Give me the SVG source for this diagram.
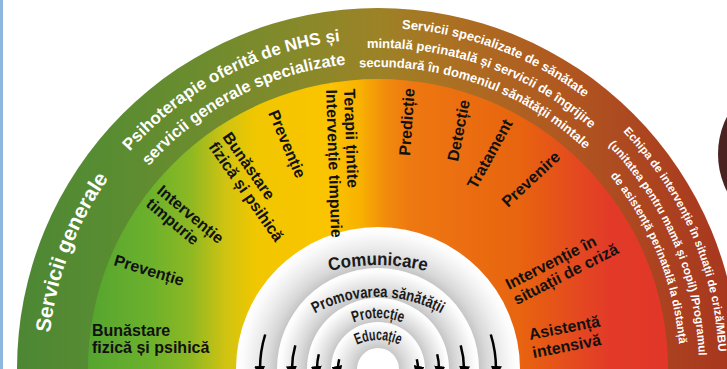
<svg xmlns="http://www.w3.org/2000/svg" xmlns:xlink="http://www.w3.org/1999/xlink" width="727" height="369" viewBox="0 0 727 369">
<style>
.out{font-family:"Liberation Sans",Arial,sans-serif;font-weight:bold;fill:#ffffff}
.in{font-family:"Liberation Sans",Arial,sans-serif;font-weight:bold;font-size:16px;fill:#111111}
.ring{font-family:"Liberation Sans Narrow","Liberation Sans",Arial,sans-serif;font-weight:bold;fill:#1a1a1a}
.arr{fill:none;stroke:#000;stroke-width:2.5;marker-end:url(#ah)}
</style>
<defs>
<linearGradient id="gOut" gradientUnits="userSpaceOnUse" x1="0" y1="0" x2="727" y2="0">
<stop offset="0" stop-color="#4b8634"/>
<stop offset="0.138" stop-color="#578c32"/>
<stop offset="0.275" stop-color="#6c8c2e"/>
<stop offset="0.413" stop-color="#87892a"/>
<stop offset="0.523" stop-color="#9d8226"/>
<stop offset="0.633" stop-color="#ad6e22"/>
<stop offset="0.77" stop-color="#b05820"/>
<stop offset="0.894" stop-color="#ac4420"/>
<stop offset="1" stop-color="#a8371e"/>
</linearGradient>
<linearGradient id="gIn" gradientUnits="userSpaceOnUse" x1="0" y1="0" x2="727" y2="0">
<stop offset="0" stop-color="#4f9e30"/>
<stop offset="0.124" stop-color="#56a530"/>
<stop offset="0.206" stop-color="#6cb12c"/>
<stop offset="0.261" stop-color="#8cb823"/>
<stop offset="0.309" stop-color="#cfc312"/>
<stop offset="0.351" stop-color="#f0c700"/>
<stop offset="0.454" stop-color="#fbc400"/>
<stop offset="0.495" stop-color="#f8b200"/>
<stop offset="0.53" stop-color="#f28c0c"/>
<stop offset="0.564" stop-color="#ee7811"/>
<stop offset="0.715" stop-color="#e8640f"/>
<stop offset="0.791" stop-color="#e44a1f"/>
<stop offset="0.839" stop-color="#e23a28"/>
<stop offset="1" stop-color="#e0332a"/>
</linearGradient>
<radialGradient id="r1" gradientUnits="userSpaceOnUse" cx="378" cy="369" r="142">
<stop offset="0.711" stop-color="#c6c6c6"/><stop offset="0.77" stop-color="#d9d9d9"/><stop offset="0.86" stop-color="#ececec"/><stop offset="0.95" stop-color="#fbfbfb"/><stop offset="1" stop-color="#ffffff"/>
</radialGradient>
<radialGradient id="r2" gradientUnits="userSpaceOnUse" cx="378" cy="369" r="101">
<stop offset="0.703" stop-color="#c6c6c6"/><stop offset="0.78" stop-color="#d9d9d9"/><stop offset="0.88" stop-color="#ededed"/><stop offset="0.96" stop-color="#fcfcfc"/><stop offset="1" stop-color="#ffffff"/>
</radialGradient>
<radialGradient id="r3" gradientUnits="userSpaceOnUse" cx="378" cy="369" r="71">
<stop offset="0.662" stop-color="#c8c8c8"/><stop offset="0.75" stop-color="#dadada"/><stop offset="0.87" stop-color="#eeeeee"/><stop offset="0.96" stop-color="#fcfcfc"/><stop offset="1" stop-color="#ffffff"/>
</radialGradient>
<radialGradient id="r4" gradientUnits="userSpaceOnUse" cx="378" cy="369" r="47">
<stop offset="0.447" stop-color="#c8c8c8"/><stop offset="0.6" stop-color="#dadada"/><stop offset="0.8" stop-color="#eeeeee"/><stop offset="0.95" stop-color="#fcfcfc"/><stop offset="1" stop-color="#ffffff"/>
</radialGradient>
<path id="p330" d="M67.9,481.9 A330,330 0 1 1 688.1,481.9"/>
<path id="p306" d="M90.5,473.7 A306,306 0 1 1 665.5,473.7"/>
<path id="p341" d="M57.6,485.6 A341,341 0 1 1 698.4,485.6"/>
<path id="p321" d="M76.4,478.8 A321,321 0 1 1 679.6,478.8"/>
<path id="p302" d="M94.2,472.3 A302,302 0 1 1 661.8,472.3"/>
<path id="pCom" d="M178,465 A200,200 0 0 1 578,465"/>
<path id="pPro" d="M248,427 A130,130 0 0 1 508,427"/>
<path id="pPrt" d="M312,384 A66,66 0 0 1 444,384"/>
<path id="pEdu" d="M328,390 A50,50 0 0 1 428,390"/>
<marker id="ah" viewBox="0 0 12 11" refX="10" refY="5.5" markerWidth="12" markerHeight="11" markerUnits="userSpaceOnUse" orient="auto">
<path d="M0,0 L12,5.5 L0,11 Z" fill="#000"/>
</marker>
</defs>
<rect x="0" y="0" width="727" height="369" fill="#ffffff"/>
<rect x="0" y="0" width="3" height="369" fill="#8cb5e0"/>
<circle id="side-disc" cx="800" cy="154" r="82" fill="#4a2220"/>

<g id="band-outer"><circle cx="378" cy="369" r="361" fill="url(#gOut)"/></g>
<g id="band-inner"><circle cx="378" cy="369" r="290" fill="url(#gIn)"/></g>
<g id="core">
<circle cx="378" cy="369" r="142" fill="url(#r1)"/>
<circle cx="378" cy="369" r="101" fill="url(#r2)"/>
<circle cx="378" cy="369" r="71" fill="url(#r3)"/>
<circle cx="378" cy="369" r="47" fill="url(#r4)"/>
<circle cx="378" cy="369" r="21" fill="#ffffff"/>
</g>

<g id="outer-labels">
<g id="servicii-generale"><text class="out" font-size="21"><textPath xlink:href="#p330" startOffset="235" text-anchor="middle">Servicii generale</textPath></text></g>
<g id="psihoterapie">
<text class="out" font-size="17"><textPath xlink:href="#p330" startOffset="474" text-anchor="middle">Psihoterapie oferită de NHS și</textPath></text>
<text class="out" font-size="16.5"><textPath xlink:href="#p306" startOffset="441.7" text-anchor="middle">servicii generale specializate</textPath></text>
</g>
<g id="servicii-specializate">
<text class="out" font-size="13"><textPath xlink:href="#p341" startOffset="777.6" text-anchor="middle">Servicii specializate de sănătate</textPath></text>
<text class="out" font-size="13"><textPath xlink:href="#p321" startOffset="727.2" text-anchor="middle">mintală perinatală și servicii de îngrijire</textPath></text>
<text class="out" font-size="13"><textPath xlink:href="#p302" startOffset="684.4" text-anchor="middle">secundară în domeniul sănătății mintale</textPath></text>
</g>
<g id="echipa">
<text class="out" font-size="11.5"><textPath xlink:href="#p341" startOffset="1050.4" text-anchor="middle">Echipa de intervenție în situații de criză/MBU</textPath></text>
<text class="out" font-size="11.5"><textPath xlink:href="#p321" startOffset="990" text-anchor="middle">(unitatea pentru mamă și copil) /Programul</textPath></text>
<text class="out" font-size="11.5"><textPath xlink:href="#p302" startOffset="936.5" text-anchor="middle">de asistență perinatală la distanță</textPath></text>
</g>
</g>

<g id="inner-labels">
<g id="bunastare-1"><text class="in" transform="translate(92,336)"><tspan x="0" y="0">Bunăstare</tspan><tspan x="0" y="17">fizică și psihică</tspan></text></g>
<g id="preventie-1"><text class="in" transform="translate(113,265) rotate(17)">Prevenție</text></g>
<g id="interventie-1"><text class="in" transform="translate(156,192.5) rotate(40)"><tspan x="0" y="0">Intervenție</tspan><tspan x="0" y="17">timpurie</tspan></text></g>
<g id="bunastare-2"><text class="in" transform="translate(222,137) rotate(55)"><tspan x="0" y="0">Bunăstare</tspan><tspan x="0" y="17">fizică și psihică</tspan></text></g>
<g id="preventie-2"><text class="in" transform="translate(268,113) rotate(67)">Prevenție</text></g>
<g id="terapii"><text class="in" transform="translate(344,89) rotate(88)"><tspan x="0" y="0">Terapii țintite</tspan><tspan x="0" y="18">Intervenție timpurie</tspan></text></g>
<g id="predictie"><text class="in" transform="translate(410,156) rotate(-86)">Predicție</text></g>
<g id="detectie"><text class="in" transform="translate(458,162) rotate(-79)">Detecție</text></g>
<g id="tratament"><text class="in" transform="translate(476,190) rotate(-61)">Tratament</text></g>
<g id="prevenire"><text class="in" transform="translate(508,208) rotate(-43)">Prevenire</text></g>
<g id="criza"><text class="in" transform="translate(509,290) rotate(-27)"><tspan x="0" y="0">Intervenție în</tspan><tspan x="0" y="17">situații de criză</tspan></text></g>
<g id="asistenta"><text class="in" transform="translate(530,340) rotate(-11)"><tspan x="0" y="0">Asistență</tspan><tspan x="0" y="18.5">intensivă</tspan></text></g>
</g>

<g id="core-labels">
<g id="comunicare"><text class="ring" style="font-family:'Liberation Sans',Arial,sans-serif" font-size="18"><textPath xlink:href="#pCom" startOffset="50%" text-anchor="middle" textLength="98" lengthAdjust="spacingAndGlyphs">Comunicare</textPath></text></g>
<g id="promovarea"><text class="ring" font-size="16"><textPath xlink:href="#pPro" startOffset="50%" text-anchor="middle" textLength="132" lengthAdjust="spacingAndGlyphs">Promovarea sănătății</textPath></text></g>
<g id="protectie"><text class="ring" font-size="16"><textPath xlink:href="#pPrt" startOffset="50%" text-anchor="middle" textLength="50" lengthAdjust="spacingAndGlyphs">Protecție</textPath></text></g>
<g id="educatie"><text class="ring" font-size="16"><textPath xlink:href="#pEdu" startOffset="50%" text-anchor="middle" textLength="44" lengthAdjust="spacingAndGlyphs">Educație</textPath></text></g>
</g>

<g id="connectors">
<path class="arr" d="M265.2,334.5 A118,118 0 0 0 260.2,376"/>
<path class="arr" d="M295.3,345.3 A86,86 0 0 0 292.3,376"/>
<path class="arr" d="M318.8,354.2 A61,61 0 0 0 317.4,376"/>
<path class="arr" d="M339.2,359.3 A40,40 0 0 0 338.6,375.9"/>
<path class="arr" d="M490.8,334.5 A118,118 0 0 1 495.8,376"/>
<path class="arr" d="M460.7,345.3 A86,86 0 0 1 463.7,376"/>
<path class="arr" d="M437.2,354.2 A61,61 0 0 1 438.6,376"/>
<path class="arr" d="M416.8,359.3 A40,40 0 0 1 417.4,375.9"/>
</g>
</svg>
